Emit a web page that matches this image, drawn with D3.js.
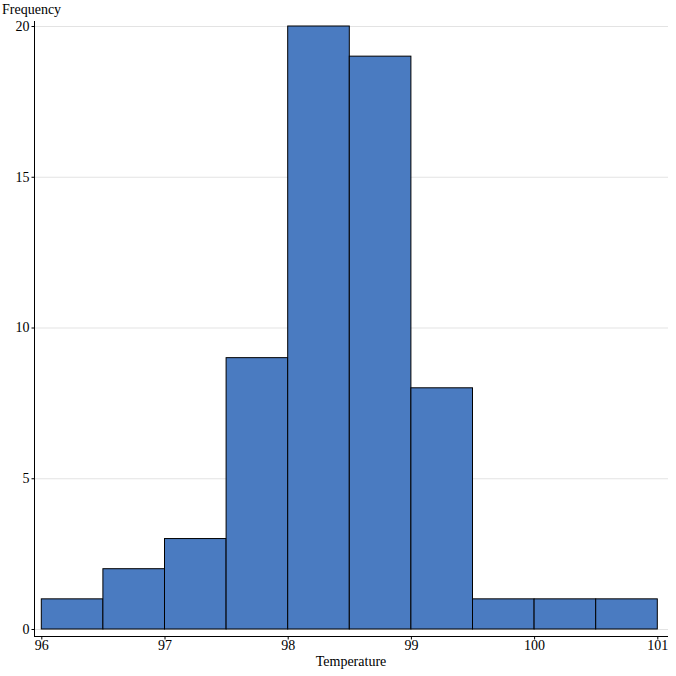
<!DOCTYPE html>
<html><head><meta charset="utf-8">
<script src="https://cdn.jsdelivr.net/npm/d3@7"></script>
<style>body{margin:0;background:#fff}text{font-family:"Liberation Serif","Times New Roman",serif}</style>
</head><body>
<svg id="c" width="676" height="676"></svg>
<script>
const binStarts = [96, 96.5, 97, 97.5, 98, 98.5, 99, 99.5, 100, 100.5];
const binWidth = 0.5;
const counts = [1, 2, 3, 9, 20, 19, 8, 1, 1, 1];
const xTicks = [96, 97, 98, 99, 100, 101];
const yTicks = [0, 5, 10, 15, 20];
const xTitle = "Temperature";
const yTitle = "Frequency";

const svg = d3.select("#c");
const x = d3.scaleLinear().domain([96, 101]).range([41.3, 657.3]);
const y = d3.scaleLinear().domain([0, 20]).range([629, 26]);
const padL = 34, padR = 668, axisY = 636, axisTop = 21;

// gridlines
svg.append("g").selectAll("line").data(yTicks).join("line")
  .attr("x1", padL).attr("x2", padR)
  .attr("y1", d => y(d) + 0.5).attr("y2", d => y(d) + 0.5)
  .attr("stroke", "#e3e3e3").attr("stroke-width", 1);

// bars
svg.append("g").selectAll("rect").data(binStarts).join("rect")
  .attr("x", (d) => x(d))
  .attr("width", d => x(d + binWidth) - x(d))
  .attr("y", (d, i) => y(counts[i]))
  .attr("height", (d, i) => y(0) - y(counts[i]))
  .attr("fill", "#4a7bc1").attr("stroke", "#000").attr("stroke-width", 1);

// y axis
const ya = svg.append("g").attr("transform", `translate(${padL + 0.5},0)`)
  .call(d3.axisLeft(y).tickValues(yTicks).tickFormat(d3.format("d")).tickSize(3).tickSizeOuter(0).tickPadding(2));
ya.select(".domain").attr("d", `M0,${axisTop}V${axisY}`);
ya.selectAll("text").attr("font-size", 14).attr("font-family", "Liberation Serif").attr("fill", "#000");
ya.selectAll("line").attr("stroke", "#000");

// x axis
const xa = svg.append("g").attr("transform", `translate(0,${axisY + 0.5})`)
  .call(d3.axisBottom(x).tickValues(xTicks).tickFormat(d3.format("d")).tickSize(3).tickSizeOuter(0).tickPadding(1));
xa.select(".domain").attr("d", `M${padL},0H${padR}`);
xa.selectAll("text").attr("font-size", 14).attr("font-family", "Liberation Serif").attr("fill", "#000");
xa.selectAll("line").attr("stroke", "#000");

svg.append("text").attr("x", 351).attr("y", 666).attr("text-anchor", "middle")
  .attr("font-size", 14).text(xTitle);
svg.append("text").attr("x", 2).attr("y", 14)
  .attr("font-size", 14).text(yTitle);
</script>
</body></html>
